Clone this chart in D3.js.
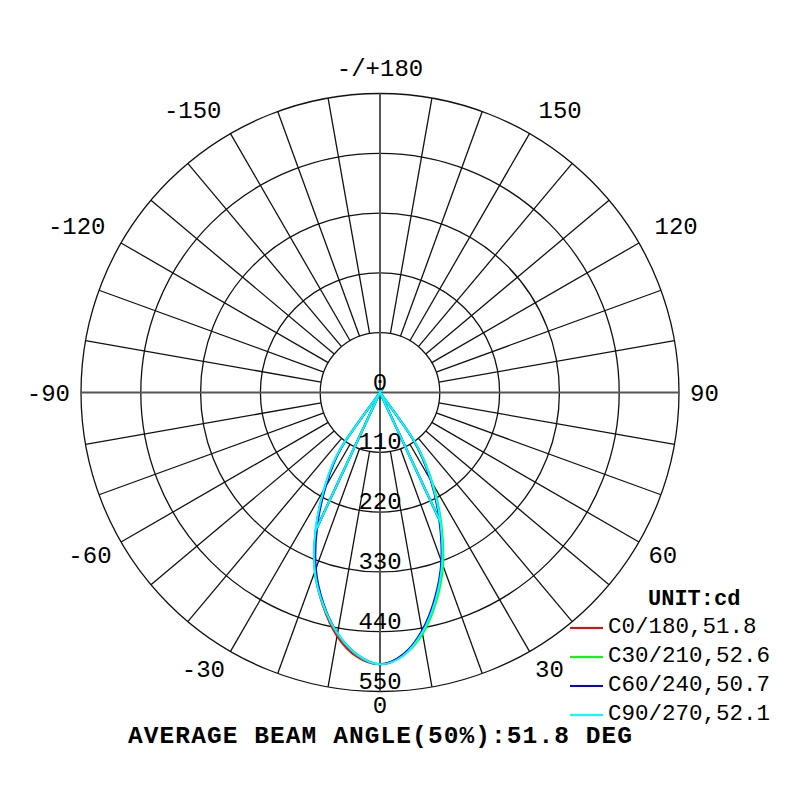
<!DOCTYPE html>
<html>
<head>
<meta charset="utf-8">
<script src="https://cdn.jsdelivr.net/npm/d3@7"></script>
<style>
  body { margin: 0; background: #fff; }
  text { font-family: "Liberation Mono", "DejaVu Sans Mono", monospace; fill: #000; }
</style>
</head>
<body>
<svg></svg>
<script>
var svg = d3.select("svg").attr("width", 800).attr("height", 800);

// gamma angles, negative = left half (C180 side), positive = right half (C0 side)
var gammas = d3.range(-90, 95, 5);

// intensities (cd), one per gamma (-90 .. 90)
var c0 = [0,0,0,0,0,0,0,0,0,0,0,126,204,280,350,406,455,488,500,485,447,394,333,262,190,112,0,0,0,0,0,0,0,0,0,0,0];
var c30 = [0,0,0,0,0,0,0,0,0,0,0,128,206,279,351,404,451,485,500,486,451,399,339,267,195,116,0,0,0,0,0,0,0,0,0,0,0];
var c60 = [0,0,0,0,0,0,0,0,0,0,0,124,200,274,345,402,450,484,500,484,445,391,330,258,187,108,0,0,0,0,0,0,0,0,0,0,0];
var c90 = [0,0,0,0,0,0,0,0,0,0,0,130,206,281,350,404,450,484,500,486,448,395,334,263,191,113,0,0,0,0,0,0,0,0,0,0,0];

var planeNames = ["C0/180", "C30/210", "C60/240", "C90/270"];
var beamAngles = [51.8, 52.6, 50.7, 52.1];
var colors = ["#ff0000", "#00ff00", "#0000ff", "#00ffff"];
var series = [c0, c30, c60, c90];

var ringTicks = [110, 220, 330, 440, 550];
var ringLabels = [0, 110, 220, 330, 440, 550];
var angleTicks = [0, 30, 60, 90, 120, 150, 180, -150, -120, -90, -60, -30];

var cx = 380, cy = 392.5, R = 299;
var r = d3.scaleLinear().domain([0, 550]).range([0, R]);

// gamma 0 points down, positive gamma to the right
function toAngle(g) {
    return Math.PI - g * Math.PI / 180;
}

var g = svg.append("g").attr("transform", "translate(" + cx + "," + cy + ")");

// rings
g.selectAll("circle.ring")
    .data(ringTicks)
    .enter().append("circle")
    .attr("class", "ring")
    .attr("r", function (d) { return r(d); })
    .attr("fill", "none")
    .attr("stroke", "#111")
    .attr("stroke-width", 1.3);

// spokes every 10 deg, from the first ring outwards
var spokes = d3.range(0, 360, 10).filter(function (d) { return d % 90 !== 0; });
g.selectAll("line.spoke")
    .data(spokes)
    .enter().append("line")
    .attr("class", "spoke")
    .attr("x1", function (d) { return r(ringTicks[0]) * Math.sin(toAngle(d)); })
    .attr("y1", function (d) { return -r(ringTicks[0]) * Math.cos(toAngle(d)); })
    .attr("x2", function (d) { return R * Math.sin(toAngle(d)); })
    .attr("y2", function (d) { return -R * Math.cos(toAngle(d)); })
    .attr("stroke", "#111")
    .attr("stroke-width", 1.3);

// main axes through the centre
g.selectAll("line.axis")
    .data([0, 90])
    .enter().append("line")
    .attr("class", "axis")
    .attr("x1", function (d) { return R * Math.sin(toAngle(d)); })
    .attr("y1", function (d) { return -R * Math.cos(toAngle(d)); })
    .attr("x2", function (d) { return -R * Math.sin(toAngle(d)); })
    .attr("y2", function (d) { return R * Math.cos(toAngle(d)); })
    .attr("stroke", "#555")
    .attr("stroke-width", 2);

// intensity curves
var line = d3.lineRadial()
    .curve(d3.curveCardinal.tension(0))
    .angle(function (d) { return toAngle(d[0]); })
    .radius(function (d) { return r(d[1]); });

series.forEach(function (vals, i) {
    var pts = gammas.map(function (gm, j) { return [gm, vals[j]]; });
    g.append("path")
        .attr("d", line(pts))
        .attr("fill", "none")
        .attr("stroke", colors[i])
        .attr("stroke-width", 2);
    // straight legs from the centre to the +-25 deg points
    [-25, 25].forEach(function (gm) {
        var v = vals[gammas.indexOf(gm)];
        g.append("line")
            .attr("x1", 0).attr("y1", 0)
            .attr("x2", r(v) * Math.sin(toAngle(gm)))
            .attr("y2", -r(v) * Math.cos(toAngle(gm)))
            .attr("stroke", colors[i])
            .attr("stroke-width", 2);
    });
});

// ring labels
g.selectAll("text.rlab")
    .data(ringLabels)
    .enter().append("text")
    .attr("class", "rlab")
    .attr("x", 0)
    .attr("y", function (d) { return r(d) - 3; })
    .attr("text-anchor", "middle")
    .style("font-size", "24px")
    .text(function (d) { return d; });

// angle labels, anchored by their inner corner
function labR(d) {
    if (d === 0) return 305; // keep clear of the footer
    return -Math.cos(toAngle(d)) < -0.01 ? 317 : 310;
}
g.selectAll("text.alab")
    .data(angleTicks)
    .enter().append("text")
    .attr("class", "alab")
    .attr("x", function (d) { return labR(d) * Math.sin(toAngle(d)); })
    .attr("y", function (d) { return -labR(d) * Math.cos(toAngle(d)); })
    .attr("text-anchor", function (d) {
        var s = Math.sin(toAngle(d));
        return s > 0.01 ? "start" : (s < -0.01 ? "end" : "middle");
    })
    .attr("dy", function (d) {
        var c = -Math.cos(toAngle(d));
        return c < -0.01 ? "0" : (c > 0.01 ? "0.66em" : "0.34em");
    })
    .style("font-size", "24px")
    .text(function (d) { return d === 180 ? "-/+180" : d; });

// legend
svg.append("text")
    .attr("x", 648).attr("y", 605)
    .style("font-size", "22px")
    .style("font-weight", "bold")
    .text("UNIT:cd");

var leg = svg.selectAll("g.leg")
    .data(planeNames)
    .enter().append("g")
    .attr("class", "leg")
    .attr("transform", function (d, i) { return "translate(0," + (633 + i * 29) + ")"; });
leg.append("line")
    .attr("x1", 570).attr("x2", 603)
    .attr("y1", -5).attr("y2", -5)
    .attr("stroke", function (d, i) { return colors[i]; })
    .attr("stroke-width", 2);
leg.append("text")
    .attr("x", 608)
    .style("font-size", "22.5px")
    .text(function (d, i) { return d + "," + beamAngles[i]; });

// footer
svg.append("text")
    .attr("x", 128).attr("y", 743)
    .attr("textLength", 504)
    .attr("lengthAdjust", "spacing")
    .style("font-size", "24.5px")
    .style("font-weight", "bold")
    .text("AVERAGE BEAM ANGLE(50%):" + d3.mean(beamAngles).toFixed(1) + " DEG");
</script>
</body>
</html>
